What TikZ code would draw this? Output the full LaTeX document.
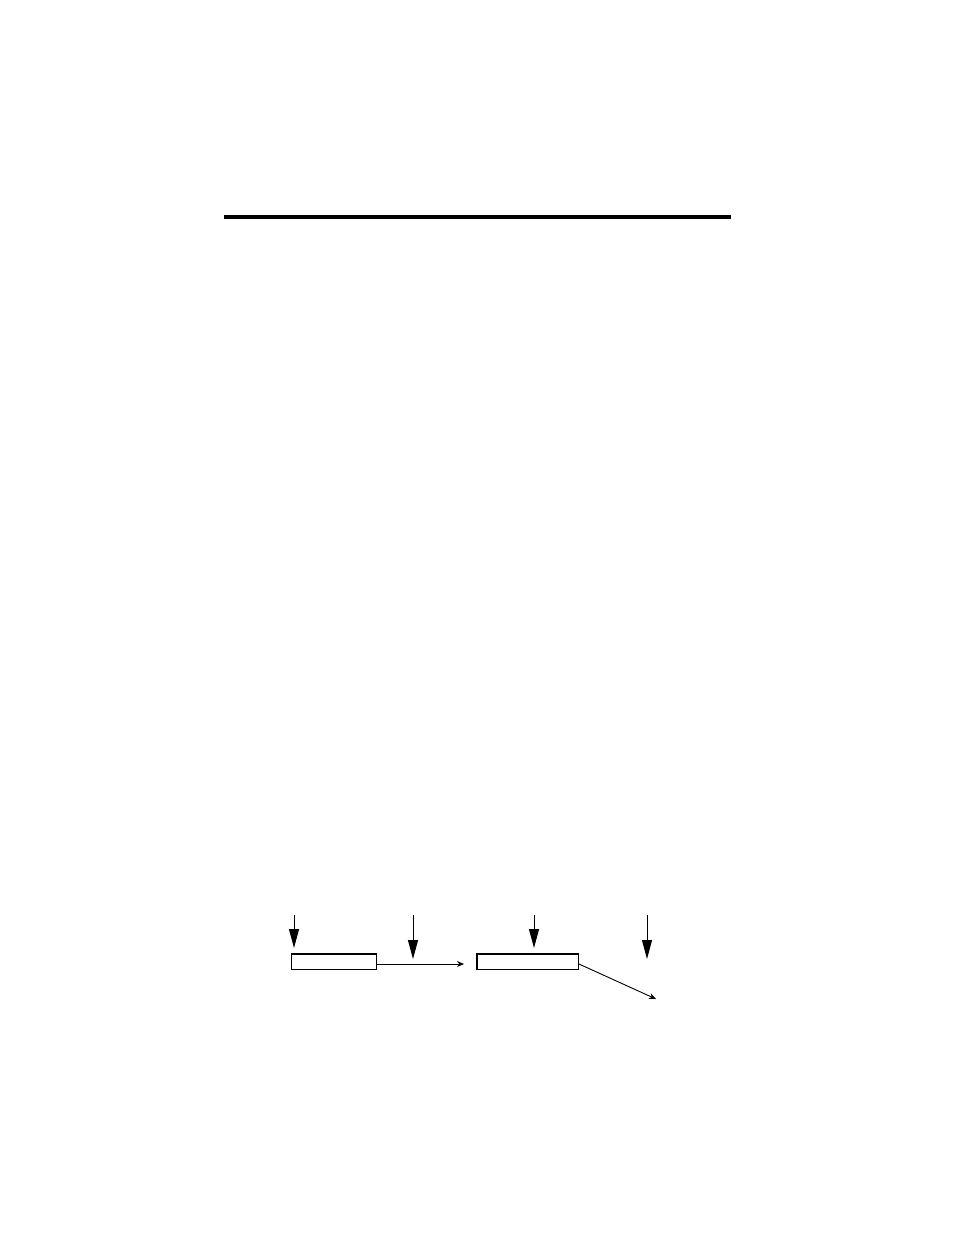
\documentclass[tikz,border=0pt]{standalone}
\usetikzlibrary{arrows.meta}
\begin{document}
\begin{tikzpicture}[x=1pt,y=-1pt,
  blockbox/.style={draw,line width=1.5pt,minimum width=#1,minimum height=15.5pt,inner sep=0pt,anchor=center},
  bigarrow/.style={line width=1pt,-{Triangle[length=19pt,width=10pt]}},
  smallarrow/.style={line width=0.9pt,-{Stealth[length=7pt,width=6pt]}}]
\useasboundingbox (0,0) rectangle (954,1235);
\coordinate (ruleL) at (224,217);
\coordinate (ruleR) at (731,217);
\draw[line width=4pt] (ruleL) -- (ruleR);
\node[blockbox=85pt] (b1) at (334,961.5) {};
\node[blockbox=101.5pt] (b2) at (527.5,961.5) {};
\coordinate (a1s) at (294,915);
\coordinate (a1e) at (294,948);
\coordinate (a2s) at (413,915);
\coordinate (a2e) at (413,959);
\coordinate (a3s) at (534,915);
\coordinate (a3e) at (534,948);
\coordinate (a4s) at (647,915);
\coordinate (a4e) at (647,959);
\coordinate (h1) at (464,964);
\coordinate (d1) at (656,999);
\draw[bigarrow] (a1s) -- (a1e);
\draw[bigarrow] (a2s) -- (a2e);
\draw[bigarrow] (a3s) -- (a3e);
\draw[bigarrow] (a4s) -- (a4e);
\draw[smallarrow] (b1.east |- h1) -- (h1);
\draw[smallarrow] (b2.east |- h1) -- (d1);
\end{tikzpicture}
\end{document}
